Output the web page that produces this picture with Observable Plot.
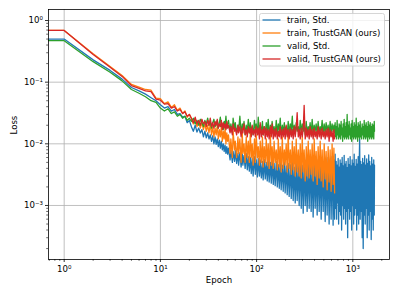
<!DOCTYPE html>
<html>
<head>
<meta charset="utf-8">
<script src="https://cdn.jsdelivr.net/npm/d3@7"></script>
<script src="https://cdn.jsdelivr.net/npm/@observablehq/plot@0.6"></script>
<style>
  html, body { margin: 0; padding: 0; background: white; overflow: hidden; }
  #chart { width: 399px; height: 299px; }
</style>
</head>
<body>
<div id="chart"></div>
<script>
// ---- data ----
const SERIES = ["train, Std.", "train, TrustGAN (ours)", "valid, Std.", "valid, TrustGAN (ours)"];
const COLORS = ["#1f77b4", "#ff7f0e", "#2ca02c", "#d62728"];

const EPOCHS = [0,1,2,3,4,5,6,7,8,9,10,11,12,13,14,15,16,17,18,19,20,
21,22,23,24,25,26,27,28,29,30,31,32,33,34,35,36,37,38,39,40,41,42,43,44,45,46,47,48,49,50,
51,53,54,56,57,59,60,62,64,65,
67,69,71,72,74,76,78,80,82,84,
86,88,90,92,95,97,99,102,104,107,
109,112,115,117,120,123,126,129,132,135,
139,142,145,149,152,156,160,164,168,172,
176,180,185,189,194,198,203,208,213,218,
224,229,235,240,246,252,258,264,271,277,
284,291,298,305,312,320,328,335,344,352,
360,369,378,387,397,406,416,426,436,447,
458,469,480,492,504,516,528,541,554,567,
581,595,609,624,636,647,
655,663,671,679,687,695,704,712,721,730,
738,747,756,765,775,784,793,803,813,822,
832,842,852,863,873,884,894,905,916,927,
938,950,961,973,985,996,1008,1021,1033,1045,
1058,1071,1084,1097,1110,1123,1137,1151,1164,1178,
1193,1207,1222,1236,1251,1266,1282,1297,1313,1329,
1345,1361,1377,1394,1411,1428,1445,1463,1480,1498,
1516,1535,1553,1572,1591,1610,1630,1650,1670,1680];

const TRAIN_STD = [0.50,0.50,0.23,0.155,0.112,0.082,0.072,0.064,0.056,0.050,0.043,0.038,0.040,0.034,0.036,0.030,0.031,0.027,0.028,0.022,0.024,
0.019,0.016,0.020,0.0155,0.018,0.015,0.017,0.013,0.016,0.0125,
0.015,0.012,0.014,0.011,0.0135,0.010,0.013,0.0098,0.012,0.009,
0.0115,0.0085,0.011,0.008,0.010,0.0075,0.0095,0.007,0.009,0.0068,
0.0085,0.0055,0.008,0.005,0.0075,0.0052,0.0078,0.0048,0.007,0.0045,
0.0072,0.0042,0.0068,0.0045,0.0065,0.004,0.007,0.0038,0.0062,0.0036,
0.006,0.0033,0.0058,0.003,0.0062,0.0032,0.0055,0.0029,0.0058,0.003,
0.0055,0.0028,0.0052,0.0026,0.0056,0.0027,0.005,0.0025,0.0054,0.0024,
0.005,0.0023,0.0055,0.0022,0.0048,0.0021,0.0052,0.002,0.0046,0.0019,
0.005,0.0018,0.0045,0.0017,0.0052,0.0016,0.0044,0.0015,0.0048,0.0014,
0.0046,0.0013,0.005,0.0012,0.0042,0.0011,0.0048,0.0012,0.0044,0.001,
0.005,0.0009,0.0045,0.00075,0.0052,0.001,0.0042,0.0008,0.0048,0.0009,
0.0055,0.0008,0.0045,0.00065,0.005,0.0009,0.0042,0.0007,0.0055,0.0008,
0.0048,0.0006,0.0058,0.0008,0.0045,0.00055,0.005,0.0007,0.006,0.0005,
0.0052,0.0006,0.0062,0.00048,0.0055,0.0006,
0.0068,0.0009,0.0052,0.0006,0.0045,0.0011,0.0058,0.0005,0.0042,0.0008,
0.0055,0.0007,0.0048,0.0004,0.006,0.001,0.0044,0.0006,0.0065,0.0009,
0.0047,0.0005,0.0052,0.0008,0.0041,0.0003,0.0058,0.0009,0.0046,0.0006,
0.0062,0.0008,0.0044,0.0004,0.0055,0.001,0.0048,0.0005,0.0068,0.0007,
0.0043,0.0009,0.0056,0.0004,0.0047,0.0007,0.0062,0.0005,0.0045,0.012,
0.0006,0.0052,0.0008,0.0046,0.0003,0.0058,0.0002,0.0049,0.0007,0.0064,
0.0005,0.0045,0.0009,0.0057,0.0003,0.0048,0.0007,0.0066,0.0004,0.0052,
0.0008,0.0044,0.00028,0.006,0.0006,0.0047,0.0004,0.0055,0.0007,0.0045];

const TRAIN_TRUST = [0.69,0.69,0.29,0.18,0.128,0.092,0.083,0.076,0.074,0.055,0.054,0.045,0.048,0.039,0.043,0.035,0.038,0.031,0.034,0.027,0.030,
0.026,0.021,0.025,0.019,0.023,0.018,0.022,0.017,0.021,0.016,
0.020,0.015,0.021,0.014,0.019,0.013,0.018,0.014,0.020,0.012,
0.017,0.013,0.019,0.011,0.016,0.012,0.018,0.010,0.015,0.011,
0.014,0.007,0.012,0.006,0.016,0.008,0.011,0.006,0.013,0.007,
0.012,0.005,0.015,0.007,0.010,0.005,0.013,0.006,0.011,0.005,
0.016,0.006,0.010,0.0045,0.012,0.005,0.014,0.006,0.009,0.0045,
0.011,0.005,0.013,0.0042,0.009,0.005,0.012,0.0045,0.010,0.004,
0.014,0.0045,0.009,0.004,0.011,0.005,0.008,0.0038,0.012,0.0042,
0.009,0.0035,0.013,0.004,0.008,0.0045,0.010,0.0035,0.015,0.004,
0.008,0.0032,0.011,0.0038,0.009,0.003,0.012,0.0035,0.008,0.003,
0.010,0.0028,0.013,0.0035,0.008,0.0025,0.009,0.003,0.011,0.0028,
0.008,0.0032,0.010,0.0025,0.012,0.003,0.0075,0.0022,0.009,0.0028,
0.011,0.0025,0.008,0.002,0.010,0.0027,0.0075,0.0018,0.009,0.0024,
0.008,0.0017,0.010,0.0022,0.0085,0.0016];

const VALID_STD = [0.47,0.47,0.215,0.145,0.105,0.076,0.066,0.058,0.050,0.047,0.038,0.034,0.037,0.031,0.033,0.028,0.030,0.026,0.028,0.024,0.026,
0.023,0.026,0.021,0.024,0.020,0.025,0.022,0.019,0.024,0.021,
0.026,0.020,0.023,0.018,0.022,0.025,0.019,0.021,0.024,0.018,
0.022,0.027,0.019,0.021,0.017,0.023,0.020,0.028,0.018,0.021,
0.024,0.016,0.021,0.015,0.026,0.017,0.022,0.015,0.020,0.016,
0.028,0.015,0.021,0.017,0.023,0.014,0.020,0.016,0.025,0.015,
0.022,0.016,0.019,0.014,0.024,0.016,0.021,0.015,0.027,0.014,
0.020,0.016,0.023,0.014,0.019,0.015,0.022,0.016,0.025,0.014,
0.020,0.015,0.023,0.016,0.019,0.014,0.024,0.015,0.021,0.016,
0.026,0.014,0.020,0.015,0.022,0.016,0.019,0.014,0.023,0.015,
0.021,0.016,0.028,0.014,0.020,0.015,0.022,0.016,0.019,0.014,
0.024,0.015,0.021,0.016,0.020,0.014,0.023,0.015,0.019,0.016,
0.022,0.014,0.025,0.015,0.020,0.016,0.021,0.014,0.023,0.015,
0.019,0.016,0.024,0.014,0.021,0.015,0.022,0.016,0.020,0.014,
0.023,0.015,0.021,0.016,0.020,0.015,
0.022,0.013,0.019,0.012,0.024,0.014,0.018,0.012,0.021,0.013,
0.020,0.012,0.023,0.014,0.018,0.011,0.021,0.013,0.025,0.012,
0.019,0.013,0.022,0.012,0.030,0.013,0.020,0.012,0.023,0.014,
0.018,0.012,0.021,0.011,0.024,0.013,0.019,0.012,0.022,0.013,
0.020,0.012,0.026,0.013,0.019,0.011,0.022,0.013,0.020,0.012,
0.023,0.013,0.018,0.012,0.021,0.014,0.019,0.012,0.024,0.013,
0.020,0.012,0.022,0.013,0.019,0.011,0.023,0.013,0.020,0.012,
0.022,0.013,0.019,0.012,0.021,0.013,0.020,0.012,0.023,0.016];

const VALID_TRUST = [0.69,0.69,0.28,0.175,0.124,0.088,0.079,0.072,0.070,0.053,0.051,0.044,0.045,0.038,0.040,0.034,0.036,0.031,0.033,0.028,0.030,
0.026,0.022,0.027,0.021,0.024,0.020,0.025,0.021,0.023,0.019,
0.024,0.020,0.026,0.019,0.022,0.018,0.023,0.020,0.025,0.018,
0.021,0.019,0.024,0.017,0.022,0.018,0.021,0.017,0.023,0.018,
0.020,0.015,0.019,0.014,0.021,0.016,0.018,0.014,0.020,0.015,
0.019,0.013,0.018,0.015,0.021,0.014,0.017,0.013,0.019,0.015,
0.018,0.013,0.020,0.014,0.017,0.013,0.019,0.014,0.018,0.012,
0.022,0.013,0.017,0.014,0.019,0.012,0.018,0.013,0.017,0.012,
0.019,0.013,0.021,0.012,0.017,0.013,0.018,0.012,0.016,0.013,
0.019,0.012,0.017,0.013,0.018,0.012,0.020,0.013,0.017,0.012,
0.018,0.013,0.017,0.012,0.019,0.013,0.018,0.032,0.013,0.017,
0.012,0.018,0.013,0.017,0.042,0.012,0.018,0.013,0.017,0.012,
0.019,0.013,0.017,0.012,0.018,0.013,0.016,0.012,0.019,0.013,
0.017,0.012,0.018,0.013,0.016,0.012,0.017,0.013,0.018,0.011,
0.017,0.013,0.016,0.011,0.017,0.012];

const X_MAJOR = [1, 10, 100, 1000];
const X_MINOR = [0.7,0.8,0.9,2,3,4,5,6,7,8,9,20,30,40,50,60,70,80,90,200,300,400,500,600,700,800,900,2000];
const Y_MAJOR = [0.001, 0.01, 0.1, 1];
const Y_MINOR = [2e-4,3e-4,4e-4,5e-4,6e-4,7e-4,8e-4,9e-4,2e-3,3e-3,4e-3,5e-3,6e-3,7e-3,8e-3,9e-3,
  0.02,0.03,0.04,0.05,0.06,0.07,0.08,0.09,0.2,0.3,0.4,0.5,0.6,0.7,0.8,0.9];
const X_LABEL = "Epoch";
const Y_LABEL = "Loss";

// ---- build rows ----
const VALUES = [TRAIN_STD, TRAIN_TRUST, VALID_STD, VALID_TRUST];
const rowsFor = (vals) => vals.slice(0, EPOCHS.length).map((v, i) => ({epoch: EPOCHS[i], loss: v}));

const SUPS = {"0":"⁰","1":"¹","2":"²","3":"³","4":"⁴","5":"⁵","6":"⁶","7":"⁷","8":"⁸","9":"⁹","-":"⁻"};
const sup = d => "10" + String(Math.round(Math.log10(d))).split("").map(c => SUPS[c]).join("");

const FS = 8.6;

const chart = Plot.plot({
  width: 399,
  height: 299,
  marginLeft: 48,
  marginRight: 10,
  marginTop: 9,
  marginBottom: 40,
  style: {fontFamily: "'DejaVu Sans', sans-serif", fontSize: FS + "px", background: "white", color: "black"},
  x: {type: "log", domain: [0.687, 2406], clamp: true, label: null},
  y: {type: "log", domain: [1.33e-4, 1.508], label: null},
  marks: [
    Plot.gridX(X_MAJOR, {stroke: "#b0b0b0", strokeOpacity: 1, strokeWidth: 0.8}),
    Plot.gridY(Y_MAJOR, {stroke: "#b0b0b0", strokeOpacity: 1, strokeWidth: 0.8}),
    ...VALUES.map((vals, k) => Plot.line(rowsFor(vals), {x: "epoch", y: "loss", stroke: COLORS[k], strokeWidth: 1.3})),
    Plot.frame({stroke: "black", strokeWidth: 0.8}),
    Plot.axisX(X_MAJOR, {tickSize: 3, tickPadding: 3, tickFormat: sup, fontSize: FS, strokeWidth: 0.8}),
    Plot.axisX(X_MINOR, {tickSize: 1.8, tickFormat: () => "", strokeWidth: 0.6}),
    Plot.axisY(Y_MAJOR, {tickSize: 3, tickPadding: 2.5, tickFormat: sup, fontSize: FS, strokeWidth: 0.8}),
    Plot.axisY(Y_MINOR, {tickSize: 1.8, tickFormat: () => "", strokeWidth: 0.6}),
    Plot.text([Y_LABEL], {text: d => d, frameAnchor: "left", dx: -34, rotate: -90, fontSize: FS, fill: "black"}),
    Plot.text([X_LABEL], {text: d => d, frameAnchor: "bottom", dy: 23, fontSize: FS, fill: "black"})
  ]
});

document.getElementById("chart").appendChild(chart);

// ---- legend (upper right, matplotlib style) ----
const svg = d3.select(chart);
const lg = svg.append("g").attr("class", "legend")
  .attr("font-family", "'DejaVu Sans', sans-serif").attr("text-anchor", "start");
const bx = 259.5, by = 13.5, bw = 125, bh = 52.5, rowH = 13, row0 = 20;
lg.append("rect").attr("x", bx).attr("y", by).attr("width", bw).attr("height", bh)
  .attr("rx", 2).attr("fill", "white").attr("fill-opacity", 0.8)
  .attr("stroke", "#cccccc").attr("stroke-width", 0.8);
SERIES.forEach((name, i) => {
  const cy = row0 + i * rowH;
  lg.append("line").attr("x1", bx + 3).attr("x2", bx + 21).attr("y1", cy).attr("y2", cy)
    .attr("stroke", COLORS[i]).attr("stroke-width", 1.3);
  lg.append("text").attr("x", bx + 27.5).attr("y", cy + 3.1)
    .attr("text-anchor", "start").attr("font-size", FS).attr("fill", "black").text(name);
});
</script>
</body>
</html>
